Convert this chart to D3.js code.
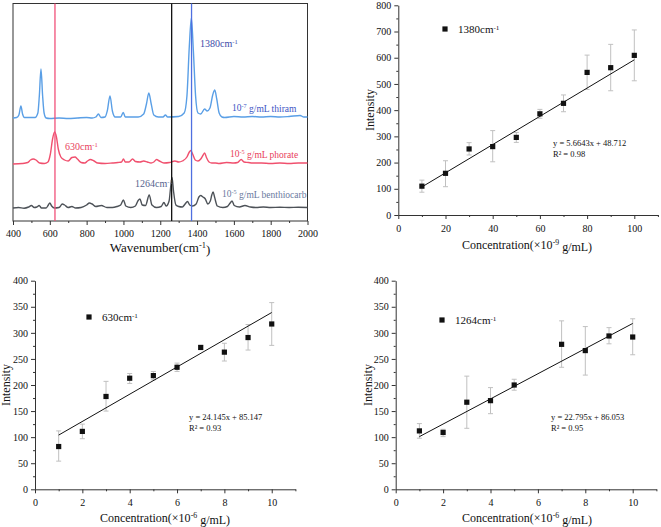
<!DOCTYPE html>
<html><head><meta charset="utf-8">
<script src="https://cdn.jsdelivr.net/npm/d3@7"></script>
<style>body{margin:0;background:#fff}svg{display:block}svg text{font-family:"Liberation Serif","DejaVu Serif",serif}</style>
</head><body><svg id="c" width="661" height="527"></svg>
<script>
// ---------- DATA ----------
// Raman spectra: [wavenumber, intensity (a.u.)]
const thiram = [[400,103],[420,103.5],[432,106],[443,115],[452,107],[462,103.5],[520,103.5],[535,108],[543,125],[552,152],[561,125],[569,108],[580,103],[600,102.5],[650,103],[700,102.5],[750,103],[800,103.5],[830,103],[850,104],[864,107],[878,103.5],[900,104],[912,110],[927,125],[940,110],[955,104],[985,104],[999,108.5],[1010,104],[1080,104],[1110,107],[1125,117],[1138,128],[1151,117],[1165,106],[1190,104],[1215,104],[1228,106],[1240,104],[1300,104.5],[1330,108],[1345,125],[1358,175],[1369,203],[1380,170],[1392,125],[1405,108],[1420,107],[1441,112],[1455,110],[1470,113],[1485,126],[1496,131],[1507,122],[1520,108],[1535,104],[1550,103.5],[1600,104.5],[1650,104],[1700,104.5],[1750,104],[1800,104.5],[1850,104],[1900,104.5],[1960,105.5],[1980,104],[2000,104]];
const phorate = [[400,57],[450,57.5],[480,58.5],[495,61],[510,62],[525,61],[545,58],[570,57.5],[590,59],[603,67],[615,82],[626,89],[636,84],[646,72],[660,64],[680,61],[700,60],[720,63.5],[737,64],[750,62],[770,58.5],[790,58],[805,60],[820,61.5],[840,60],[860,58],[900,57.5],[940,58],[970,58.5],[990,59],[1000,62],[1010,59],[1030,59],[1050,62],[1065,59.5],[1090,59],[1110,60],[1130,59],[1150,58],[1165,59],[1180,61.5],[1195,60],[1220,58],[1250,58.5],[1280,60],[1300,59],[1320,60],[1345,64],[1358,69],[1366,70.5],[1376,67],[1390,61],[1405,60],[1420,62],[1433,66],[1441,68],[1450,64],[1465,59],[1480,58],[1500,58],[1520,57.5],[1560,58.5],[1600,58],[1620,58.5],[1640,61.5],[1655,59],[1680,58.5],[1700,58],[1750,58],[1800,57.5],[1850,58],[1900,57.5],[1950,58],[2000,58]];
const benthiocarb = [[400,13],[430,13.5],[460,12.8],[485,14],[500,15.5],[515,13.5],[530,14],[542,15.5],[555,13],[580,13],[592,16],[600,18],[610,15],[625,13],[650,13.5],[668,17],[680,16],[700,13.5],[720,14.5],[740,13],[770,13.5],[800,16],[815,18],[830,17],[850,14.5],[880,15.5],[910,13.5],[940,13.5],[965,14.5],[985,16],[1000,21],[1013,15],[1040,13.5],[1065,15],[1080,20.5],[1090,22],[1102,16],[1120,15.5],[1140,26],[1155,16],[1180,13.5],[1205,14.5],[1220,18.5],[1232,15],[1248,20],[1256,33],[1264,43.5],[1272,30],[1285,16],[1300,14.5],[1320,14],[1335,17],[1348,19.5],[1360,16],[1375,15],[1395,17],[1410,24],[1420,25.5],[1432,24],[1445,22],[1458,17],[1472,20],[1480,26],[1487,29],[1495,24],[1510,15],[1540,13.5],[1565,14.5],[1580,18],[1590,20],[1602,15.5],[1630,14],[1660,15.5],[1690,14],[1720,13.5],[1760,14],[1800,13.5],[1850,13.7],[1900,13.5],[1950,13.8],[2000,13.5]];
const markerLines = [628, 1262, 1370];
const wnTicks = [400,600,800,1000,1200,1400,1600,1800,2000];

// 1380 cm-1 calibration (thiram)
const concA = [10,20,30,40,50,60,70,80,90,100];
const intA  = [110,159,252,261,296,386,426,544,562,609];
const errLoA = [87,108,229,203,277,369,394,479,474,512];
const errHiA = [133,207,276,322,315,403,458,610,651,706];
const fitA = [[10,107],[100,592]];

// 630 cm-1 calibration (phorate)
const concB = [1,2,3,4,5,6,7,8,9,10];
const intB  = [82,111,178,213,218,234,272,263,291,317];
const errLoB = [54,97,150,203,210,226,268,246,267,276];
const errHiB = [112,125,207,222,226,242,276,280,316,358];
const fitB = [[1,104],[10,339]];

// 1264 cm-1 calibration (benthiocarb)
const concC = [1,2,3,4,5,7,8,9,10];
const intC  = [112,109,167,170,200,278,266,294,292];
const errLoC = [98,101,117,145,190,234,219,279,258];
const errHiC = [126,115,217,195,211,323,312,310,327];
const fitC = [[1,101],[10,318]];

// ---------- DRAW ----------
const svg = d3.select("#c");
const axisCol = "#333";
const FONT = '"Liberation Serif","DejaVu Serif",serif';

function sup(t, base, s, rest){
  t.append("tspan").text(base);
  t.append("tspan").attr("dy","-0.45em").attr("font-size","0.65em").text(s);
  if(rest) t.append("tspan").attr("dy","0.45em").text(rest);
}

// ---- Spectrum panel ----
(function(){
  const x = d3.scaleLinear().domain([400,2000]).range([13,307.5]);
  const y = d3.scaleLinear().domain([0,217.5]).range([221,3.5]);
  const g = svg.append("g");
  g.append("rect").attr("x",13).attr("y",3.5).attr("width",294.5).attr("height",217.5)
    .attr("fill","none").attr("stroke",axisCol).attr("stroke-width",1);
  const line = d3.line().x(d=>x(d[0])).y(d=>y(d[1])).curve(d3.curveMonotoneX);
  const cols = ["#5a9fe6","#f0506e","#4d5258"];
  [thiram, phorate, benthiocarb].forEach((s,i)=>{
    g.append("path").datum(s).attr("d",line).attr("fill","none").attr("stroke",cols[i]).attr("stroke-width",1.4);
  });
  const vcols = ["#f0507a","#111","#4f6fe0"];
  markerLines.forEach((w,i)=>{
    g.append("line").attr("x1",x(w)).attr("x2",x(w)).attr("y1",3.5).attr("y2",221)
      .attr("stroke",vcols[i]).attr("stroke-width",1.3);
  });
  const ax = d3.axisBottom(x).tickValues(wnTicks).tickSize(4).tickFormat(d3.format("d"));
  const ag = g.append("g").attr("transform","translate(0,221)").call(ax);
  ag.attr("font-family",FONT);
  ag.select(".domain").remove();
  ag.selectAll("line").attr("stroke",axisCol);
  ag.selectAll("text").attr("font-size",10).attr("fill","#111").attr("dy","0.9em");
  const am = d3.axisBottom(x).tickValues(d3.range(500,2000,200)).tickSize(2).tickFormat("");
  const amg = g.append("g").attr("transform","translate(0,221)").call(am);
  amg.select(".domain").remove(); amg.selectAll("line").attr("stroke",axisCol);
  const t = g.append("text").attr("x",160).attr("y",252).attr("text-anchor","middle").attr("font-size",13).attr("fill","#111");
  sup(t,"Wavenumber(cm","-1",")");
  const lab = (xx,yy,col,fs,base,s,rest)=>{const tt=g.append("text").attr("x",xx).attr("y",yy).attr("fill",col).attr("font-size",fs);sup(tt,base,s,rest);};
  lab(200,47,"#3c4aa8",10,"1380cm","-1");
  lab(232,111,"#3d55c4",9.5,"10","-7"," g/mL thiram");
  lab(65,150,"#e8405a",10,"630cm","-1");
  lab(230,157,"#e8405a",9.5,"10","-5"," g/mL phorate");
  lab(135,187,"#56648e",10,"1264cm","-1");
  lab(222,197,"#6a7aa0",9.5,"10","-5"," g/mL benthiocarb");
})();

// ---- Calibration panels ----
function scatterPanel(o){
  const g = svg.append("g").attr("font-family",FONT);
  const x = d3.scaleLinear().domain(o.xd).range(o.xr);
  const y = d3.scaleLinear().domain(o.yd).range(o.yr);
  const ax = d3.axisBottom(x).tickValues(o.xt).tickSize(4).tickSizeOuter(0).tickFormat(d3.format("d"));
  const axg = g.append("g").attr("transform",`translate(0,${o.yr[0]})`).call(ax);
  axg.select(".domain").attr("stroke",axisCol);
  const axm = d3.axisBottom(x).tickValues(o.xm).tickSize(2).tickFormat("");
  const axmg = g.append("g").attr("transform",`translate(0,${o.yr[0]})`).call(axm);
  axmg.select(".domain").remove();
  const ay = d3.axisLeft(y).tickValues(o.yt).tickSize(4).tickSizeOuter(0).tickFormat(d3.format("d"));
  const ayg = g.append("g").attr("transform",`translate(${o.xr[0]},0)`).call(ay);
  ayg.select(".domain").attr("stroke",axisCol);
  const aym = d3.axisLeft(y).tickValues(o.ym).tickSize(2).tickFormat("");
  const aymg = g.append("g").attr("transform",`translate(${o.xr[0]},0)`).call(aym);
  aymg.select(".domain").remove();
  g.selectAll("g").attr("font-family",FONT);
  g.selectAll(".tick line").attr("stroke",axisCol);
  g.selectAll(".tick text").attr("font-size",10).attr("fill","#111");
  axg.selectAll("text").attr("dy","0.95em");
  const eb = g.append("g").attr("stroke","#c0c0c0").attr("stroke-width",1);
  o.c.forEach((c,i)=>{
    eb.append("line").attr("x1",x(c)).attr("x2",x(c)).attr("y1",y(o.lo[i])).attr("y2",y(o.hi[i]));
    eb.append("line").attr("x1",x(c)-2.5).attr("x2",x(c)+2.5).attr("y1",y(o.lo[i])).attr("y2",y(o.lo[i]));
    eb.append("line").attr("x1",x(c)-2.5).attr("x2",x(c)+2.5).attr("y1",y(o.hi[i])).attr("y2",y(o.hi[i]));
  });
  g.append("path").datum(o.fit).attr("d",d3.line().x(d=>x(d[0])).y(d=>y(d[1])))
    .attr("stroke","#111").attr("stroke-width",1).attr("fill","none");
  g.selectAll("rect.pt").data(o.c).enter().append("rect").attr("class","pt")
    .attr("x",d=>x(d)-2.6).attr("y",(d,i)=>y(o.v[i])-2.6).attr("width",5.2).attr("height",5.2).attr("fill","#111");
  g.append("rect").attr("x",o.leg[0]-2.6).attr("y",o.leg[1]-2.6).attr("width",5.2).attr("height",5.2).attr("fill","#111");
  const lt = g.append("text").attr("x",o.leg[0]+13).attr("y",o.leg[1]+4).attr("font-size",11).attr("fill","#111");
  sup(lt,o.legText,"-1");
  g.append("text").attr("x",o.eq[0]).attr("y",o.eq[1]).attr("font-size",8.5).attr("fill","#111").text(o.eqText);
  g.append("text").attr("x",o.eq[0]).attr("y",o.eq[1]+11).attr("font-size",8.5).attr("fill","#111").text(o.r2Text);
  const xt = g.append("text").attr("x",o.xTitle[0]).attr("y",o.xTitle[1]).attr("text-anchor","middle").attr("font-size",12).attr("fill","#111");
  sup(xt,"Concentration(×10",o.exp," g/mL)");
  g.append("text").attr("transform",`translate(${o.yTitle[0]},${o.yTitle[1]}) rotate(-90)`)
    .attr("text-anchor","middle").attr("font-size",12).attr("fill","#111").text("Intensity");
}

scatterPanel({xd:[0,110],xr:[398.3,657.9],yd:[0,800],yr:[215,5.3],
  xt:[0,20,40,60,80,100],xm:[10,30,50,70,90,110],yt:d3.range(0,801,100),ym:d3.range(50,800,100),
  c:concA,v:intA,lo:errLoA,hi:errHiA,fit:fitA,leg:[445,29],legText:"1380cm",
  eq:[553,146],eqText:"y = 5.6643x + 48.712",r2Text:"R² = 0.98",xTitle:[527,249],exp:"-9",yTitle:[374,110]});

scatterPanel({xd:[0,11],xr:[35,295.4],yd:[0,400],yr:[489.3,280.7],
  xt:[0,2,4,6,8,10],xm:[1,3,5,7,9,11],yt:d3.range(0,401,50),ym:d3.range(25,400,50),
  c:concB,v:intB,lo:errLoB,hi:errHiB,fit:fitB,leg:[89,317],legText:"630cm",
  eq:[189,420],eqText:"y = 24.145x + 85.147",r2Text:"R² = 0.93",xTitle:[165,522],exp:"-6",yTitle:[10,385]});

scatterPanel({xd:[0,11],xr:[395.7,656.4],yd:[0,400],yr:[489.3,280.7],
  xt:[0,2,4,6,8,10],xm:[1,3,5,7,9,11],yt:d3.range(0,401,50),ym:d3.range(25,400,50),
  c:concC,v:intC,lo:errLoC,hi:errHiC,fit:fitC,leg:[442,320],legText:"1264cm",
  eq:[551,420],eqText:"y = 22.795x + 86.053",r2Text:"R² = 0.95",xTitle:[527,522],exp:"-6",yTitle:[372,385]});
</script></body></html>
